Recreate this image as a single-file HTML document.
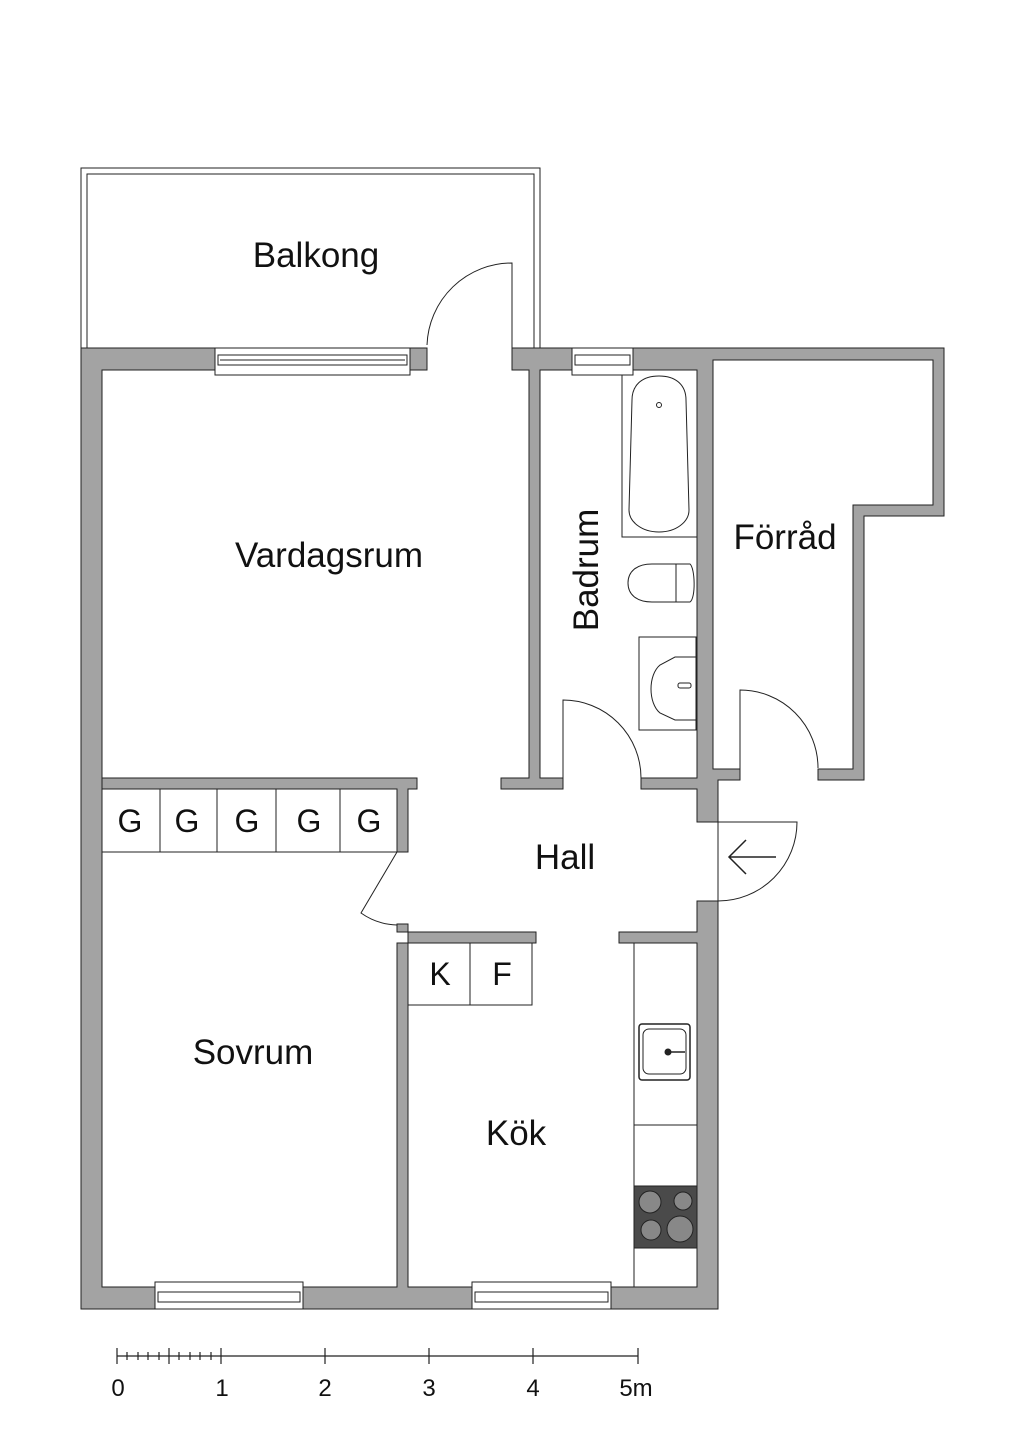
<!DOCTYPE html>
<html><head><meta charset="utf-8"><style>
html,body{margin:0;padding:0;background:#fff}
svg{display:block}
text{font-family:"Liberation Sans",sans-serif;fill:#111}
</style></head><body>
<svg width="1024" height="1448" viewBox="0 0 1024 1448" xmlns="http://www.w3.org/2000/svg">
<rect width="1024" height="1448" fill="#fff"/>
<g fill="none" stroke="#222" stroke-width="1">
<path d="M81 348 V168 H540 V348"/>
<path d="M87 348 V174 H534 V348"/>
</g>
<g fill="#a3a3a3" stroke="#222" stroke-width="1">
<path d="M81 348 H410 V370 H102 V1287 H155 V1309 H81 Z"/>
<rect x="410" y="348" width="17" height="22"/>
<path d="M512 348 H572 V370 H540 V778 H563 V789 H501 V778 H529 V370 H512 Z"/>
<path d="M633 348 H944 V516 H864 V780 H818 V769 H853 V505 H933 V360 H713 V769 H740 V780 H718 V822 H697 V789 H641 V778 H697 V370 H633 Z"/>
<path d="M697 901 H718 V1309 H611 V1287 H697 V943 H619 V932 H697 Z"/>
<path d="M303 1287 H397 V943 H536 V932 H408 V1287 H472 V1309 H303 Z"/>
<path d="M102 778 H417 V789 H408 V852 H397 V789 H102 Z"/>
<rect x="397" y="924" width="11" height="8"/>
</g>
<g fill="#fff" stroke="#222" stroke-width="1">
<rect x="215" y="348" width="195" height="27"/>
<rect x="218" y="355" width="189" height="10"/>
<line x1="220" y1="360" x2="405" y2="360"/>
<rect x="572" y="348" width="61" height="27"/>
<rect x="575" y="355" width="55" height="10"/>
<rect x="155" y="1282" width="148" height="27"/>
<rect x="158" y="1292" width="142" height="10"/>
<rect x="472" y="1282" width="139" height="27"/>
<rect x="475" y="1292" width="133" height="10"/>
</g>
<g fill="none" stroke="#222" stroke-width="1">
<path d="M512 348 V263 A85 85 0 0 0 427 345"/>
<path d="M563 778 V700 A78 78 0 0 1 641 778"/>
<path d="M740 780 V690 A78 78 0 0 1 818 768"/>
<path d="M718 822 H797 A79 79 0 0 1 718 901 Z"/>
<path d="M397 852 L361 913 A65 65 0 0 0 397 925"/>
<path d="M776 857 H729 M746 840 L729 857 L746 874" stroke-width="1.5"/>
</g>
<g fill="#fff" stroke="#222" stroke-width="1">
<rect x="102" y="789" width="295" height="63"/>
<line x1="160" y1="789" x2="160" y2="852"/><line x1="217" y1="789" x2="217" y2="852"/>
<line x1="276" y1="789" x2="276" y2="852"/><line x1="340" y1="789" x2="340" y2="852"/>
<rect x="408" y="943" width="124" height="62"/>
<line x1="470" y1="943" x2="470" y2="1005"/>
</g>
<g font-size="32" text-anchor="middle">
<text x="130" y="832">G</text><text x="187" y="832">G</text><text x="247" y="832">G</text><text x="309" y="832">G</text><text x="369" y="832">G</text>
<text x="440" y="985">K</text><text x="502" y="985">F</text>
</g>
<g fill="none" stroke="#222" stroke-width="1">
<rect x="634" y="943" width="63" height="344" fill="#fff"/>
<line x1="634" y1="1125" x2="697" y2="1125"/>
<rect x="639" y="1024" width="51" height="56" rx="3" stroke-width="1.5"/>
<rect x="643" y="1029" width="43" height="45" rx="6"/>
<circle cx="668" cy="1052" r="3" fill="#222"/>
<line x1="668" y1="1052" x2="685" y2="1052" stroke-width="1.5"/>
</g>
<rect x="634" y="1186" width="63" height="62" fill="#4a4a4a" stroke="#222"/>
<g fill="#888" stroke="#222" stroke-width="1">
<circle cx="650" cy="1202" r="11"/><circle cx="683" cy="1201" r="9"/>
<circle cx="651" cy="1230" r="10"/><circle cx="680" cy="1229" r="13"/>
</g>
<g fill="none" stroke="#222" stroke-width="1">
<path d="M622 375 V537 H697"/>
<path d="M659 376 C677 376 686 386 686 400 L689 510 C689 522 676 532 659 532 C642 532 629 522 629 510 L632 400 C632 386 641 376 659 376 Z"/>
<circle cx="659" cy="405" r="2.5"/>
<path d="M676 564 H652 C636 564 628 572 628 583 C628 594 636 602 652 602 H676"/>
<path d="M676 564 H690 C695 568 696 598 690 602 H676 Z"/>
<rect x="639" y="637" width="57" height="93"/>
<path d="M696 657 H675 L660 665 C648 675 648 703 660 713 L675 720 H696"/>
<rect x="678" y="683" width="13" height="5" rx="2"/>
</g>
<g font-size="35" text-anchor="middle">
<text x="316" y="267">Balkong</text>
<text x="329" y="567">Vardagsrum</text>
<text x="785" y="549">Förråd</text>
<text x="565" y="869">Hall</text>
<text x="253" y="1064">Sovrum</text>
<text x="516" y="1145">Kök</text>
<text transform="translate(598 570) rotate(-90)">Badrum</text>
</g>
<g stroke="#222" stroke-width="1.2">
<line x1="117" y1="1356" x2="638" y2="1356"/>
<line x1="117" y1="1348" x2="117" y2="1364"/><line x1="169" y1="1348" x2="169" y2="1364"/>
<line x1="221" y1="1348" x2="221" y2="1364"/><line x1="325" y1="1348" x2="325" y2="1364"/>
<line x1="429" y1="1348" x2="429" y2="1364"/><line x1="533" y1="1348" x2="533" y2="1364"/>
<line x1="638" y1="1348" x2="638" y2="1364"/>
<path d="M127 1352V1360M138 1352V1360M148 1352V1360M159 1352V1360M179 1352V1360M190 1352V1360M200 1352V1360M211 1352V1360"/>
</g>
<g font-size="24" text-anchor="middle">
<text x="118" y="1396">0</text><text x="222" y="1396">1</text><text x="325" y="1396">2</text>
<text x="429" y="1396">3</text><text x="533" y="1396">4</text><text x="636" y="1396">5m</text>
</g>
</svg>
</body></html>
